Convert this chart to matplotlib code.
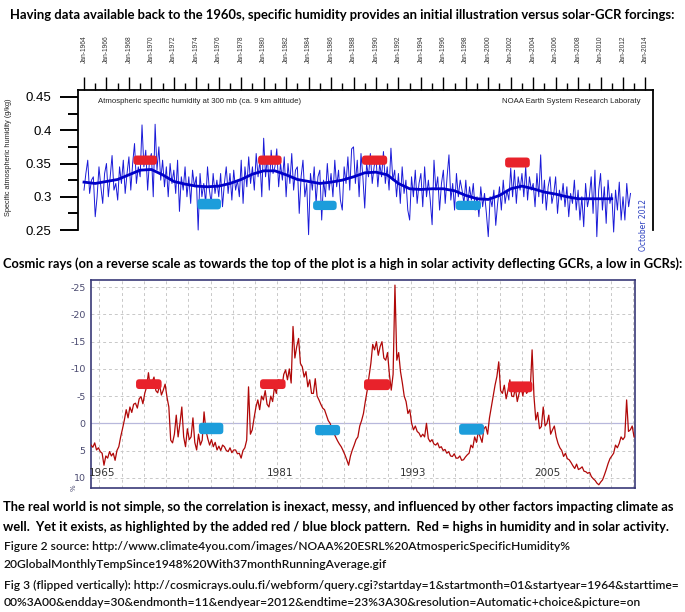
import numpy as np
import matplotlib
matplotlib.use("Agg")
import matplotlib.pyplot as plt
from matplotlib.patches import FancyBboxPatch
from matplotlib.ticker import MultipleLocator, FixedLocator

# ---- data ----
# specific humidity at 300 mb (g/kg), two-monthly readings, Jan 1964 .. Sep 2012
humidity = [
    .310, .335, .355, .305, .325, .330,  # 1964
    .270, .300, .345, .315, .290, .335,
    .350, .300, .330, .362, .310, .320,
    .295, .345, .320, .355, .305, .335,
    .360, .310, .350, .380, .320, .345,  # 1968
    .330, .408, .345, .370, .310, .355,
    .365, .300, .409, .340, .375, .325,
    .355, .315, .345, .300, .350, .320,
    .340, .305, .355, .278, .330, .310,  # 1972
    .345, .300, .330, .290, .340, .315,
    .330, .250, .335, .300, .320, .290,
    .345, .310, .290, .335, .305, .325,
    .300, .335, .285, .320, .345, .305,  # 1976
    .335, .295, .340, .310, .325, .300,
    .355, .290, .345, .315, .360, .320,
    .345, .310, .365, .330, .355, .300,
    .388, .330, .360, .310, .370, .335,  # 1980
    .345, .372, .315, .350, .325, .360,
    .300, .350, .320, .365, .310, .340,
    .345, .275, .330, .355, .300, .320,
    .243, .335, .310, .345, .290, .330,  # 1984
    .340, .265, .325, .300, .350, .310,
    .335, .300, .355, .315, .340, .295,
    .280, .345, .320, .360, .310, .372,
    .375, .320, .355, .300, .365, .330,  # 1988
    .283, .350, .330, .365, .320, .345,
    .360, .315, .350, .330, .368, .320,
    .345, .310, .373, .325, .340, .300,
    .335, .290, .345, .305, .325, .280,  # 1992
    .265, .330, .300, .340, .290, .320,
    .335, .285, .345, .300, .325, .295,
    .258, .355, .310, .330, .280, .320,
    .340, .290, .330, .363, .295, .320,  # 1996
    .280, .335, .300, .325, .310, .290,
    .325, .285, .315, .295, .320, .280,
    .300, .270, .315, .285, .305, .275,
    .240, .300, .285, .310, .257, .290,  # 2000
    .315, .280, .325, .290, .310, .295,
    .343, .300, .340, .290, .330, .310,
    .335, .300, .345, .295, .330, .310,
    .320, .285, .335, .300, .363, .290,  # 2004
    .325, .280, .315, .330, .290, .305,
    .330, .275, .310, .295, .320, .285,
    .315, .270, .305, .290, .325, .280,
    .310, .265, .300, .255, .320, .285,  # 2008
    .300, .330, .275, .340, .240, .310,
    .335, .280, .315, .260, .325, .290,
    .305, .247, .310, .280, .322, .265,
    .300, .265, .320, .285, .305,        # 2012
]
hum_t = 1964 + np.arange(len(humidity)) / 6

# 37-month running average, yearly readings 1964 .. 2011
hum_mean_years = list(range(1964, 2012))
hum_mean = [
    .322, .320, .323, .326, .333, .340, .341, .333, .323, .319,
    .316, .315, .316, .320, .326, .334, .339, .339, .333, .326,
    .323, .320, .322, .325, .330, .336, .337, .333, .320, .312,
    .311, .312, .312, .309, .302, .297, .296, .302, .312, .316,
    .312, .307, .304, .300, .297, .297, .297, .297,
]

# cosmic rays, % (plotted on reversed scale), two-monthly readings 1964 .. 2012
cosmic = [
    4.0, 4.4, 3.6, 4.9, 4.5, 5.2,  # 1964
    5.5, 7.7, 6.0, 6.4, 5.2, 6.0,
    5.5, 6.8, 5.0, 4.3, 2.5, 1.0,
    -0.6, -2.5, -1.0, -3.0, -2.0, -3.5,
    -3.7, -2.8, -4.5, -4.9, -3.6, -5.5,  # 1968
    -6.7, -9.3, -6.5, -7.6, -8.5, -6.0,
    -5.6, -7.0, -5.2, -6.1, -7.2, -4.8,
    -3.0, 3.1, 3.6, 2.0, -1.5, 2.5,
    0.0, -3.0, 2.5, 4.3, 1.0, 3.0,  # 1972
    2.5, -1.0, 3.5, 4.9, 2.0, 4.0,
    3.1, -2.1, 1.3, 2.8, 4.0, 3.0,
    4.3, 3.5, 4.9, 4.2, 5.0, 4.0,
    4.3, 5.0, 5.2, 4.5, 5.4, 4.9,  # 1976
    4.9, 5.6, 5.5, 6.4, 5.0, 4.5,
    3.1, -6.7, 2.0, 1.2, -1.0, -3.0,
    -4.3, -2.5, -5.0, -4.3, -6.0, -3.5,
    -3.0, -5.0, -4.0, -6.7, -5.5, -8.0,  # 1980
    -7.9, -6.5, -9.0, -9.8, -8.0, -10.0,
    -7.4, -17.8, -12.0, -14.1, -15.6, -11.0,
    -10.4, -8.5, -9.5, -6.7, -8.0, -5.5,
    -5.5, -8.2, -5.0, -4.3, -3.5, -2.8,  # 1984
    -2.5, -1.5, -0.5, 0.0, 1.0, 1.8,
    2.5, 3.2, 3.8, 4.3, 5.0, 5.8,
    6.7, 7.7, 6.0, 4.9, 4.0, 3.0,
    2.5, 0.5, -0.5, -1.8, -4.0, -6.0,  # 1988
    -8.6, -11.0, -14.5, -13.5, -15.0, -12.5,
    -14.1, -15.0, -12.0, -11.6, -13.0, -9.0,
    -6.1, -9.0, -25.4, -11.6, -13.0, -9.5,
    -7.4, -5.0, -4.0, -1.8, -2.5, 0.0,  # 1992
    1.2, 0.5, 1.5, 1.8, 2.5, 2.0,
    2.5, 0.0, 2.8, 3.4, 3.0, 3.8,
    4.0, 3.6, 4.5, 4.3, 5.0, 4.8,
    5.5, 5.2, 6.0, 6.1, 5.6, 6.4,  # 1996
    6.4, 6.0, 6.8, 6.7, 6.2, 5.8,
    5.5, 4.0, 4.5, 2.5, 3.5, 1.5,
    2.5, 3.5, 1.0, 0.6, 2.0, -1.0,
    -3.0, -5.0, -7.0, -8.6, -11.3, -6.0,  # 2000
    -5.5, -7.0, -4.5, -6.1, -8.0, -5.0,
    -4.9, -6.5, -4.0, -5.5, -7.0, -5.0,
    -7.4, -5.5, -6.0, -6.1, -13.5, -5.0,
    -0.6, -2.0, 1.0, 0.6, -3.0, 0.5,  # 2004
    0.0, -1.5, 2.0, 1.2, 0.5, 2.5,
    3.7, 4.5, 5.0, 6.1, 5.5, 6.5,
    6.7, 7.2, 7.8, 8.3, 7.5, 8.5,
    8.3, 8.0, 8.8, 8.9, 9.2, 9.0,  # 2008
    9.8, 10.2, 10.5, 11.0, 11.3, 10.8,
    10.4, 9.5, 8.5, 7.4, 6.5, 6.0,
    5.5, 4.0, 4.5, 3.7, 2.5, 3.0,
    2.5, -4.3, 1.5, 1.2, 0.5, 2.5,  # 2012
]
cr_t = 1964 + np.arange(len(cosmic)) / 6

# added red / blue blocks: (start year, end year, low, high)
hum_red = [(1968.4, 1970.5, .348, .362), (1979.5, 1981.6, .348, .362),
           (1988.75, 1991.0, .348, .362), (2001.5, 2003.7, .344, .359)]
hum_blue = [(1974.1, 1976.2, .281, .297), (1984.4, 1986.5, .280, .294),
            (1997.1, 1999.35, .280, .294)]
cr_red = [(1968.05, 1970.35, -8.1, -6.3), (1979.2, 1981.5, -8.1, -6.3),
          (1988.55, 1990.9, -8.1, -6.1), (2001.5, 2003.7, -7.7, -5.7)]
cr_blue = [(1973.7, 1975.9, -0.1, 2.0), (1984.15, 1986.4, 0.3, 2.2),
           (1997.1, 1999.35, 0.1, 2.1)]

hum_year_ticks = list(range(1964, 2015, 2))
hum_year_labels = ["Jan-%d" % y for y in hum_year_ticks]
cr_ticks = [-25, -20, -15, -10, -5, 0, 5, 10]
cr_year_labels = [1965, 1981, 1993, 2005]

RED = "#e8222b"
BLUE = "#1c9ddb"

# ---- figure ----
W, H = 685, 612
fig = plt.figure(figsize=(W / 100, H / 100), dpi=100)
renderer = fig.canvas.get_renderer()


def box(x0, x1, y0, y1):
    # pixel box -> figure fraction rect
    return [x0 / W, 1 - y1 / H, (x1 - x0) / W, (y1 - y0) / H]


def fit_text(x, y, s, width, size=None, vertical=False, **kw):
    t = fig.text(x / W, 1 - y / H, s, fontsize=size or 10, **kw)
    if size is None:
        ext = t.get_window_extent(renderer)
        t.set_fontsize(10 * width / (ext.height if vertical else ext.width))
    return t


def blocks(ax, items, color):
    # rounded bars; aspect keeps the corner rounding circular on screen
    p0 = ax.transData.transform((0, 0))
    p1 = ax.transData.transform((1, 1))
    aspect = abs((p1[0] - p0[0]) / (p1[1] - p0[1]))
    for x0, x1, y0, y1 in items:
        ax.add_patch(FancyBboxPatch((x0, y0), x1 - x0, y1 - y0,
                                    boxstyle="round,pad=0,rounding_size=0.3",
                                    mutation_aspect=aspect,
                                    fc=color, ec="none", zorder=5))


# ---- top: specific humidity ----
ax1 = fig.add_axes(box(78, 653, 90, 240))
ax1.plot(hum_t, humidity, color="#1a1ad8", lw=0.7, zorder=2)
ax1.plot(hum_mean_years, hum_mean, color="#0000c8", lw=2.0, zorder=3)
ax1.set_xlim(1963.466, 2014.67)
ax1.set_ylim(0.235, 0.4605)
for s in ("left", "right"):
    ax1.spines[s].set_bounds(0.25, 0.4605)
    ax1.spines[s].set_linewidth(1.3)
ax1.spines["top"].set_linewidth(1.3)
ax1.spines["bottom"].set_visible(False)
ax1.yaxis.set_minor_locator(MultipleLocator(0.025))
ax1.set_yticks([0.25, 0.3, 0.35, 0.4, 0.45])
ax1.set_yticklabels(["0.25", "0.3", "0.35", "0.4", "0.45"], family="Liberation Sans", fontsize=9.5)
ax1.tick_params(axis="y", which="major", length=13, width=1.4, pad=6)
ax1.tick_params(axis="y", which="minor", length=7.5, width=1.4)
ax1.xaxis.tick_top()
ax1.set_xticks(hum_year_ticks)
ax1.set_xticklabels(hum_year_labels, rotation=90, fontsize=4.8, family="Liberation Sans", color="#333333")
ax1.xaxis.set_minor_locator(MultipleLocator(1))
ax1.tick_params(axis="x", which="major", length=9.5, width=1.0, pad=10)
ax1.tick_params(axis="x", which="minor", length=5, width=1.0)
blocks(ax1, hum_red, RED)
blocks(ax1, hum_blue, BLUE)
ax1.text(1965.25, 0.4429, "Atmospheric specific humidity at 300 mb (ca. 9 km altitude)",
         fontsize=5.6, family="Liberation Sans", va="center", color="#222222")
ax1.text(2013.6, 0.4429, "NOAA Earth System Research Laboraty",
         fontsize=5.6, family="Liberation Sans", va="center", ha="right", color="#222222")
ax1.text(2013.78, 0.2583, "October 2012", rotation=90, fontsize=5.5, color="#2a3fc0",
         ha="center", va="center", clip_on=False)
fit_text(9, 157, "Specific atmospheric humidity (g/kg)", 120, vertical=True, rotation=90,
         family="Liberation Sans", ha="center", va="center", color="#222222")

# ---- bottom: cosmic rays (reversed scale) ----
NAVY = "#3a3a78"
ax2 = fig.add_axes(box(91, 635, 280, 488))
ax2.plot(cr_t, cosmic, color="#b00808", lw=0.9, zorder=3)
ax2.set_xlim(1964.0, 2012.92)
ax2.set_ylim(11.89, -26.34)
for s in ax2.spines.values():
    s.set_color(NAVY)
    s.set_linewidth(1.2)
ax2.yaxis.set_major_locator(FixedLocator(cr_ticks))
ax2.set_yticklabels([str(v) for v in cr_ticks], fontsize=6.8, color="#4a4a70")
ax2.tick_params(axis="y", length=0, pad=4)
ax2.set_xticks([])
for v in cr_ticks:
    if v == 0:
        ax2.axhline(v, color="#b8b8dc", lw=0.9, zorder=1)
    else:
        ax2.axhline(v, color="#c8c8c8", lw=0.7, ls=(0, (3, 3)), zorder=1)
for g in np.arange(1964.75, 2012.9, 2):
    ax2.axvline(g, color="#c8c8c8", lw=0.7, ls=(0, (3, 3)), zorder=1)
for yl in cr_year_labels:
    ax2.text(yl, 9.1, str(yl), fontsize=7.5, ha="center", va="center", color="#333333", zorder=4)
blocks(ax2, cr_red, RED)
blocks(ax2, cr_blue, BLUE)
fig.text(74 / W, 1 - 488 / H, "%", rotation=90, fontsize=5, color="#4a4a70", ha="center", va="center")

# ---- text ----
fam = ["Lato", "DejaVu Sans"]
fit_text(10, 15, "Having data available back to the 1960s, specific humidity provides an initial illustration versus solar-GCR forcings:",
         665, family=fam, fontweight="bold", va="center")
fit_text(3, 264, "Cosmic rays (on a reverse scale as towards the top of the plot is a high in solar activity deflecting GCRs, a low in GCRs):",
         680, family=fam, fontweight="bold", va="center")
t = fit_text(3, 507, "The real world is not simple, so the correlation is inexact, messy, and influenced by other factors impacting climate as",
             672, family=fam, fontweight="bold", va="center")
fit_text(3, 527, "well.  Yet it exists, as highlighted by the added red / blue block pattern.  Red = highs in humidity and in solar activity.",
         0, size=t.get_fontsize(), family=fam, fontweight="bold", va="center")
t = fit_text(4, 585, "Fig 3 (flipped vertically): http://cosmicrays.oulu.fi/webform/query.cgi?startday=1&startmonth=01&startyear=1964&starttime=",
             679, family=fam, fontweight="semibold", va="center", color="#111111")
sz = t.get_fontsize()
fit_text(4, 603, "00%3A00&endday=30&endmonth=11&endyear=2012&endtime=23%3A30&resolution=Automatic+choice&picture=on",
         0, size=sz, family=fam, fontweight="semibold", va="center", color="#111111")
fit_text(4, 547, "Figure 2 source: http://www.climate4you.com/images/NOAA%20ESRL%20AtmospericSpecificHumidity%",
         0, size=sz, family=fam, fontweight="semibold", va="center", color="#111111")
fit_text(4, 565, "20GlobalMonthlyTempSince1948%20With37monthRunningAverage.gif",
         0, size=sz, family=fam, fontweight="semibold", va="center", color="#111111")

fig.savefig("out.png", dpi=100, facecolor="white")
